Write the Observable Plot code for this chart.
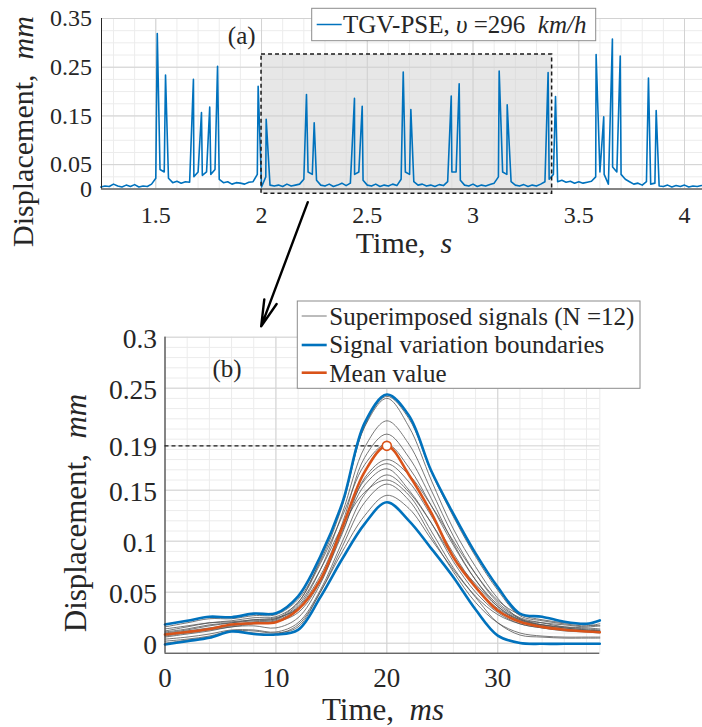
<!DOCTYPE html>
<html><head><meta charset="utf-8">
<script src="https://cdn.jsdelivr.net/npm/d3@7"></script>
<script src="https://cdn.jsdelivr.net/npm/@observablehq/plot@0.6"></script>
<style>
body{margin:0;background:#fff;}
#fig{position:relative;width:702px;height:727px;overflow:hidden;background:#fff;}
#fig svg{position:absolute;left:0;overflow:visible;}
</style></head><body><div id="fig"></div>
<script>
const FONT = '"Liberation Serif","Times New Roman",serif';
const INK = "#262626";
const BLUE = "#0072BD", ORANGE = "#D95319", GRAYLINE = "#555555";

// ---------- (a) full record ----------
const peakTimes   = [1.507,1.546,1.678,1.716,1.755,1.792,1.984,2.022,2.2125,2.249,2.4395,2.476,2.670,2.706,2.897,2.9345,3.1236,3.1615,3.355,3.390,3.582,3.618,3.659,3.696,3.8295,3.866];
const peakHeights = [0.319,0.234,0.225,0.157,0.168,0.252,0.211,0.143,0.194,0.136,0.186,0.170,0.240,0.163,0.191,0.216,0.242,0.173,0.239,0.190,0.276,0.148,0.308,0.273,0.228,0.161];
const baseStart = 1.24, baseStep = 0.02;
const baseValues = [
 0.004,0.006,0.005,0.010,0.006,0.004,0.008,0.005,0.009,0.004,
 0.006,0.005,0.010,0.022,0.040,0.035,0.022,0.013,0.016,0.012,
 0.015,0.014,0.025,0.035,0.028,0.035,0.030,0.040,0.020,0.013,
 0.015,0.010,0.013,0.012,0.010,0.014,0.015,0.030,0.004,0.025,
 0.008,0.006,0.008,0.005,0.010,0.006,0.008,0.010,0.020,0.035,
 0.030,0.018,0.008,0.006,0.010,0.005,0.008,0.012,0.007,0.012,
 0.030,0.035,0.018,0.008,0.006,0.010,0.005,0.008,0.006,0.010,
 0.007,0.020,0.035,0.030,0.015,0.008,0.010,0.006,0.008,0.005,
 0.009,0.007,0.015,0.035,0.035,0.018,0.008,0.006,0.010,0.005,
 0.008,0.006,0.009,0.012,0.025,0.035,0.030,0.015,0.008,0.006,
 0.009,0.005,0.008,0.006,0.010,0.015,0.020,0.030,0.015,0.018,
 0.014,0.016,0.012,0.015,0.012,0.014,0.016,0.025,0.035,0.030,
 0.010,0.045,0.035,0.030,0.020,0.015,0.010,0.012,0.008,0.015,
 0.010,0.012,0.006,0.005,0.008,0.004,0.007,0.005,0.008,0.004,
 0.006,0.005,0.007];
const topXDomain = [1.2433, 4.085];
const topYDomain = [0, 0.35];
const topXTicks = [1.5, 2, 2.5, 3, 3.5, 4];
const topXTickLabels = ["1.5", "2", "2.5", "3", "3.5", "4"];
const topYTicks = [0, 0.05, 0.15, 0.25, 0.35];
const topYTickLabels = ["0", "0.05", "0.15", "0.25", "0.35"];
const zoomWindow = [{t1: 2.0, t2: 3.374, v1: -0.0098, v2: 0.276}];
const zoomArrow = [{t1: 2.2187, v1: -0.027, t2: 1.9983, v2: -0.282}];

// ---------- (b) superimposed signals ----------
const msTimes = [0,2,4,6,8,10,12,14,16,18,20,22,24,26,28,30,32,34,36,38,39.2];
const upperBound = [0.0183,0.022,0.026,0.0255,0.029,0.0294,0.046,0.085,0.138,0.216,0.2438,0.223,0.169,0.1268,0.088,0.055,0.029,0.026,0.021,0.019,0.0223];
const lowerBound = [-0.0013,0.002,0.0053,0.0115,0.009,0.0085,0.013,0.045,0.083,0.117,0.1382,0.120,0.093,0.0647,0.033,0.0075,0.0002,-0.0006,-0.0006,-0.0006,-0.0006];
const meanValue  = [0.0085,0.011,0.014,0.0183,0.0196,0.0206,0.033,0.062,0.114,0.168,0.1935,0.165,0.128,0.0843,0.055,0.032,0.021,0.016,0.0132,0.0115,0.0108];
const sig01 = [0.016,0.020,0.024,0.024,0.027,0.028,0.043,0.080,0.135,0.213,0.242,0.220,0.168,0.124,0.085,0.052,0.027,0.022,0.019,0.017,0.019];
const sig02 = [0.012,0.016,0.020,0.022,0.025,0.026,0.040,0.082,0.138,0.212,0.240,0.212,0.160,0.112,0.075,0.044,0.024,0.020,0.018,0.016,0.017];
const sig03 = [0.010,0.013,0.017,0.020,0.023,0.024,0.036,0.072,0.128,0.192,0.218,0.195,0.150,0.105,0.068,0.040,0.025,0.020,0.016,0.014,0.013];
const sig04 = [0.008,0.011,0.014,0.017,0.020,0.022,0.035,0.066,0.115,0.160,0.176,0.158,0.125,0.088,0.056,0.034,0.023,0.018,0.015,0.013,0.012];
const sig05 = [0.006,0.009,0.012,0.016,0.017,0.015,0.025,0.058,0.110,0.155,0.171,0.150,0.118,0.080,0.050,0.030,0.019,0.015,0.012,0.011,0.010];
const sig06 = [0.004,0.006,0.009,0.013,0.013,0.011,0.020,0.052,0.100,0.146,0.165,0.148,0.118,0.084,0.058,0.036,0.023,0.017,0.014,0.012,0.011];
const sig07 = [0.009,0.012,0.015,0.018,0.021,0.023,0.038,0.072,0.115,0.148,0.160,0.145,0.110,0.074,0.046,0.028,0.019,0.015,0.013,0.012,0.012];
const sig08 = [0.002,0.004,0.007,0.012,0.010,0.009,0.018,0.050,0.095,0.138,0.156,0.140,0.105,0.070,0.040,0.020,0.010,0.007,0.006,0.006,0.006];
const sig09 = [0.000,0.003,0.006,0.012,0.012,0.010,0.016,0.050,0.090,0.125,0.145,0.132,0.102,0.072,0.045,0.020,0.008,0.006,0.005,0.005,0.005];
const sig10 = [0.011,0.014,0.018,0.020,0.022,0.024,0.040,0.078,0.125,0.175,0.195,0.172,0.135,0.096,0.062,0.038,0.024,0.018,0.015,0.013,0.012];
const sig11 = [0.014,0.017,0.020,0.021,0.023,0.025,0.034,0.062,0.118,0.182,0.205,0.182,0.142,0.098,0.062,0.036,0.022,0.018,0.016,0.015,0.014];
const sig12 = [0.007,0.010,0.013,0.016,0.019,0.021,0.030,0.060,0.108,0.162,0.180,0.165,0.135,0.100,0.068,0.042,0.028,0.023,0.020,0.018,0.017];
const superimposed = [sig01,sig02,sig03,sig04,sig05,sig06,sig07,sig08,sig09,sig10,sig11,sig12];
const meanPeak = [{t: 20, v: 0.1935}];
const botXDomain = [0, 39.2];
const botYDomain = [-0.0098, 0.3];
const botXTicks = [0, 10, 20, 30];
const botXTickLabels = ["0", "10", "20", "30"];
const botYTicks = [0, 0.05, 0.1, 0.15, 0.1935, 0.25, 0.3];
const botYTickLabels = ["0", "0.05", "0.1", "0.15", "0.19", "0.25", "0.3"];

// ---------- build tables ----------
const signal = baseValues.map((v, i) => ({t: +(baseStart + baseStep * i).toFixed(2), v}))
  .concat(peakTimes.map((t, i) => ({t, v: peakHeights[i]})))
  .sort((a, b) => a.t - b.t);
const toRows = (arr, id) => arr.map((v, i) => ({t: msTimes[i], v, id}));
const grayRows = superimposed.flatMap((s, k) => toRows(s, "s" + k));
const boundRows = toRows(upperBound, "up").concat(toRows(lowerBound, "lo"));
const meanRows = toRows(meanValue, "mean");
const labelOf = (ticks, labels) => d => labels[ticks.indexOf(d)];

function addText(svg, {x, y, rotate = 0, anchor = "start", size, parts, fill = INK}) {
  const t = d3.select(svg).append("text")
    .attr("transform", `translate(${x},${y})` + (rotate ? ` rotate(${rotate})` : ""))
    .attr("text-anchor", anchor).attr("font-size", size).attr("fill", fill)
    .attr("font-family", FONT).style("white-space", "pre");
  for (const [s, it] of parts) t.append("tspan").attr("font-style", it ? "italic" : "normal").text(s);
}

// ---------- top chart ----------
const topMinorX = d3.range(13, 41).map(d => d / 10);
const topMinorY = d3.range(0, 15).map(d => d * 0.025);
const topChart = Plot.plot({
  width: 702, height: 265,
  marginLeft: 101, marginRight: 0, marginTop: 18, marginBottom: 76.5,
  x: {domain: topXDomain, axis: null},
  y: {domain: topYDomain, axis: null},
  style: {fontFamily: FONT, background: "transparent", overflow: "visible"},
  marks: [
    Plot.ruleX(topMinorX, {stroke: "#ececec", strokeWidth: 1}),
    Plot.ruleY(topMinorY, {stroke: "#ececec", strokeWidth: 1}),
    Plot.ruleX(topXTicks, {stroke: "#d2d2d2", strokeWidth: 1}),
    Plot.ruleY(topYTicks, {stroke: "#d2d2d2", strokeWidth: 1}),
    Plot.rect(zoomWindow, {x1: "t1", x2: "t2", y1: "v1", y2: "v2", fill: "#cfcfcf", fillOpacity: 0.5}),
    Plot.line(signal, {x: "t", y: "v", stroke: BLUE, strokeWidth: 1.6, strokeLinejoin: "round"}),
    Plot.rect(zoomWindow, {x1: "t1", x2: "t2", y1: "v1", y2: "v2", fill: "none", stroke: "#1a1a1a", strokeWidth: 1.5, strokeDasharray: "4,3"}),
    Plot.ruleX([topXDomain[0]], {stroke: INK, strokeWidth: 1}),
    Plot.ruleY([topYDomain[0]], {stroke: INK, strokeWidth: 1}),
    Plot.text(topXTicks, {x: d => d, text: labelOf(topXTicks, topXTickLabels), frameAnchor: "bottom", dy: 26, lineAnchor: "middle", fontSize: 24, fill: INK}),
    Plot.text(topYTicks, {y: d => d, text: labelOf(topYTicks, topYTickLabels), frameAnchor: "left", dx: -9.5, textAnchor: "end", lineAnchor: "middle", fontSize: 24, fill: INK}),
    Plot.arrow(zoomArrow, {x1: "t1", y1: "v1", x2: "t2", y2: "v2", stroke: "#000", strokeWidth: 2.4, headLength: 17, headAngle: 28})
  ]
});
topChart.style.top = "0px";
addText(topChart, {x: 404, y: 253, anchor: "middle", size: 30, parts: [["Time,  ", false], ["s", true]]});
addText(topChart, {x: 33, y: 131.5, rotate: -90, anchor: "middle", size: 30, parts: [["Displacement,  ", false], ["mm", true]]});
addText(topChart, {x: 241.7, y: 44, anchor: "middle", size: 25, parts: [["(a)", false]]});
{
  const g = d3.select(topChart).append("g");
  g.append("rect").attr("x", 311.7).attr("y", 8.3).attr("width", 284).attr("height", 32.4).attr("fill", "#fff").attr("stroke", "#8c8c8c").attr("stroke-width", 1);
  g.append("line").attr("x1", 316.7).attr("x2", 341.7).attr("y1", 24.5).attr("y2", 24.5).attr("stroke", BLUE).attr("stroke-width", 1.5);
}
addText(topChart, {x: 343, y: 33, size: 25, parts: [["TGV-PSE, ", false], ["υ", true], [" =296  ", false], ["km/h", true]]});

// ---------- bottom chart ----------
const botMinorX = d3.range(0, 40, 2);
const botMinorY = d3.range(0, 31).map(d => d / 100);
const botChart = Plot.plot({
  width: 702, height: 427,
  marginLeft: 164.5, marginRight: 102.7, marginTop: 36.7, marginBottom: 74.3,
  x: {domain: botXDomain, axis: null},
  y: {domain: botYDomain, axis: null},
  style: {fontFamily: FONT, background: "transparent", overflow: "visible"},
  marks: [
    Plot.ruleX(botMinorX.concat([botXDomain[1]]), {stroke: "#ececec", strokeWidth: 1}),
    Plot.ruleY(botMinorY, {stroke: "#ececec", strokeWidth: 1}),
    Plot.ruleX(botXTicks, {stroke: "#d2d2d2", strokeWidth: 1}),
    Plot.ruleY(botYTicks, {stroke: "#d2d2d2", strokeWidth: 1}),
    Plot.ruleY(meanPeak, {y: "v", x1: () => botXDomain[0], x2: "t", stroke: "#1a1a1a", strokeWidth: 1.2, strokeDasharray: "4,3"}),
    Plot.line(grayRows, {x: "t", y: "v", z: "id", stroke: GRAYLINE, strokeWidth: 0.8, curve: "catmull-rom"}),
    Plot.line(boundRows, {x: "t", y: "v", z: "id", stroke: BLUE, strokeWidth: 2.6, curve: "catmull-rom"}),
    Plot.line(meanRows, {x: "t", y: "v", z: "id", stroke: ORANGE, strokeWidth: 2.6, curve: "catmull-rom"}),
    Plot.dot(meanPeak, {x: "t", y: "v", r: 4.5, stroke: ORANGE, fill: "#fff", strokeWidth: 1.6}),
    Plot.ruleX([botXDomain[0]], {stroke: INK, strokeWidth: 1}),
    Plot.ruleY([botYDomain[0]], {stroke: INK, strokeWidth: 1}),
    Plot.text(botXTicks, {x: d => d, text: labelOf(botXTicks, botXTickLabels), frameAnchor: "bottom", dy: 25.5, lineAnchor: "middle", fontSize: 27, fill: INK}),
    Plot.text(botYTicks, {y: d => d, text: labelOf(botYTicks, botYTickLabels), frameAnchor: "left", dx: -8, dy: 1.5, textAnchor: "end", lineAnchor: "middle", fontSize: 27.5, fill: INK})
  ]
});
botChart.style.top = "300px";
// coordinates below are relative to the bottom svg (page y - 300)
addText(botChart, {x: 383, y: 420, anchor: "middle", size: 31, parts: [["Time,  ", false], ["ms", true]]});
addText(botChart, {x: 86, y: 213, rotate: -90, anchor: "middle", size: 31, parts: [["Displacement,  ", false], ["mm", true]]});
addText(botChart, {x: 227, y: 77, anchor: "middle", size: 25, parts: [["(b)", false]]});
{
  const g = d3.select(botChart).append("g");
  g.append("rect").attr("x", 297.3).attr("y", 1).attr("width", 342.7).attr("height", 87.3).attr("fill", "#fff").attr("stroke", "#8c8c8c").attr("stroke-width", 1);
  const rows = [[16, GRAYLINE, 0.8], [45, BLUE, 2.6], [72.7, ORANGE, 2.6]];
  for (const [y, c, w] of rows) g.append("line").attr("x1", 301.7).attr("x2", 326.7).attr("y1", y).attr("y2", y).attr("stroke", c).attr("stroke-width", w);
}
addText(botChart, {x: 329.3, y: 25, size: 25, parts: [["Superimposed signals (N =12)", false]]});
addText(botChart, {x: 329.3, y: 53.3, size: 25, parts: [["Signal variation boundaries", false]]});
addText(botChart, {x: 329.3, y: 81.7, size: 25, parts: [["Mean value", false]]});

document.getElementById("fig").append(topChart, botChart);
</script></body></html>
